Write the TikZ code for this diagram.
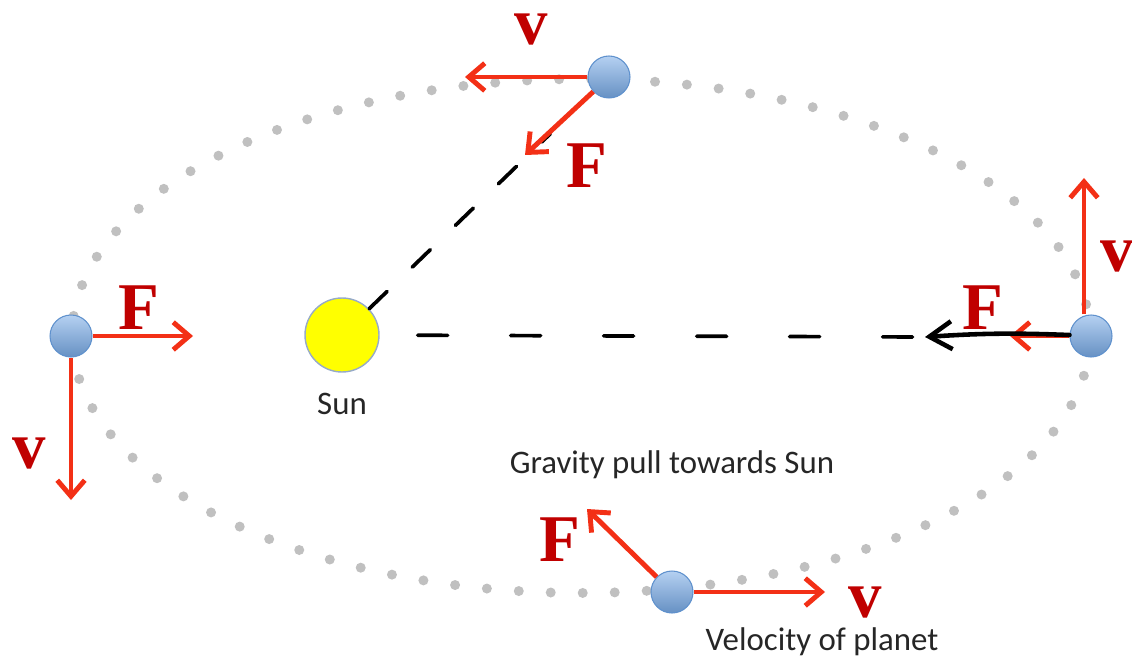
\documentclass[tikz,border=0pt]{standalone}
\usepackage{fontspec}
\setmainfont{Liberation Serif}
\newfontfamily\calibfont{Carlito}
\usetikzlibrary{positioning,arrows.meta}
\definecolor{orbitgray}{RGB}{192,192,192}
\definecolor{forcered}{RGB}{243,48,22}
\definecolor{labelred}{RGB}{192,0,0}
\definecolor{planetblue}{RGB}{120,170,230}
\definecolor{planetedge}{RGB}{95,145,205}
\definecolor{sunyellow}{RGB}{255,255,0}
\definecolor{sunedge}{RGB}{150,170,200}
\tikzset{
  planet/.style={circle, draw=planetedge, line width=0.6pt, top color=planetblue!55!white, bottom color=planetblue!85!black, minimum size=0.84cm, inner sep=0pt},
  sun/.style={circle, draw=sunedge, line width=0.8pt, fill=sunyellow, minimum size=1.48cm, inner sep=0pt},
  vec/.style={-{Straight Barb[length=0.32cm,width=0.55cm]}, line width=2.8pt, forcered},
  vlabel/.style={text=labelred, font=\fontsize{38}{38}\selectfont\bfseries, inner sep=0pt},
  caption/.style={font=\calibfont\fontsize{18.7}{21}\selectfont, text=black!85, inner sep=0pt},
  orbit/.style={orbitgray, line width=0.2cm, line cap=round, dash pattern=on 0pt off 0.64cm},
  pull/.style={black, line width=2.1pt, line cap=round},
  handarrow/.style={-{Straight Barb[length=0.45cm,width=0.56cm]}, black, line width=2.6pt, line cap=round}
}
\begin{document}
\begin{tikzpicture}[x=0.02cm, y=-0.02cm]
  \useasboundingbox (0,0) rectangle (1132,662);
  % orbit
  \draw[orbit] (581,336) ellipse [x radius=10.18cm, y radius=5.14cm];
  % sun and planets
  \node[sun] (sun) at (342,335) {};
  \node[planet] (lp) at (71,336) {};
  \node[planet] (tp) at (609,77) {};
  \node[planet] (rp) at (1091,336) {};
  \node[planet] (bp) at (672,592) {};
  % arrow ends
  \coordinate (lpF) at (193,336);
  \coordinate (lpV) at (71,500);
  \coordinate (tpV) at (465,77);
  \coordinate (tpF) at (525,155);
  \coordinate (rpV) at (1084,178);
  \coordinate (rpF) at (1010,336);
  \coordinate (bpV) at (825,592);
  \coordinate (bpF) at (587,509);
  \coordinate (tip) at (925,337);
  % hand drawn pull lines
  \draw[pull, dash pattern=on 0.5cm off 0.7cm, shorten >=1.2cm] (sun) -- (tp);
  \draw[pull, dash pattern=on 0.6cm off 1.26cm, dash phase=1.1cm] (sun) -- (tip);
  % velocity and force
  \foreach \p/\e in {lp/lpF,lp/lpV,tp/tpV,tp/tpF,rp/rpF,bp/bpV,bp/bpF}{\draw[vec] (\p) -- (\e);}
  \draw[vec] (rp.north -| rpV) -- (rpV);
  \draw[handarrow] (rp) to[bend right=3] (tip);
  % labels
  \node[vlabel] (lpFl) at (139,308) {F};
  \node[vlabel] (lpVl) at (29,454) {v};
  \node[vlabel] (tpVl) at (531,30) {v};
  \node[vlabel] (tpFl) at (587,166) {F};
  \node[vlabel] (rpVl) at (1117,257) {v};
  \node[vlabel] (rpFl) at (983,308) {F};
  \node[vlabel] (bpFl) at (560,540) {F};
  \node[vlabel] (bpVl) at (865,602) {v};
  \node[caption, below=0.4cm of sun] (suntext) {Sun};
  \node[caption] (gravity) at (672,465) {Gravity pull towards Sun};
  \node[caption] (velocity) at (822,642) {Velocity of planet};
\end{tikzpicture}
\end{document}
